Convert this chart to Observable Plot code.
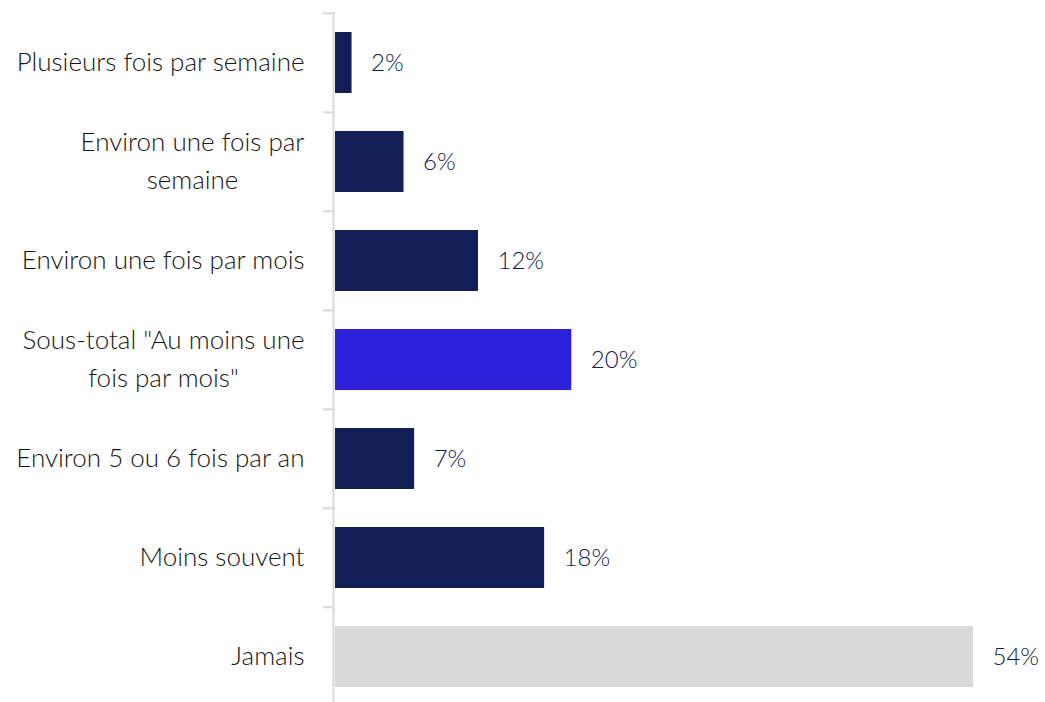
<!DOCTYPE html>
<html>
<head>
<meta charset="utf-8">
<script src="https://cdn.jsdelivr.net/npm/d3@7"></script>
<script src="https://cdn.jsdelivr.net/npm/@observablehq/plot@0.6"></script>
<style>
  html, body { margin: 0; padding: 0; background: #fff; overflow: hidden; }
  #chart svg { display: block; }
</style>
</head>
<body>
<div id="chart"></div>
<script>
const categories = [
  "Plusieurs fois par semaine",
  "Environ une fois par\nsemaine",
  "Environ une fois par mois",
  "Sous-total \"Au moins une\nfois par mois\"",
  "Environ 5 ou 6 fois par an",
  "Moins souvent",
  "Jamais"
];
const values = [1.4, 5.8, 12.1, 20.0, 6.7, 17.7, 54.0];
const valueLabels = ["2%", "6%", "12%", "20%", "7%", "18%", "54%"];
const groups = ["detail", "detail", "detail", "subtotal", "detail", "detail", "never"];

const data = categories.map((c, i) => ({category: c, value: values[i], label: valueLabels[i], group: groups[i]}));

const font = "Lato, 'Open Sans', sans-serif";
const labelSize = 26;
const labelPad = 31;
const labelLineHeight = 1.46;

// measure widest line of wrapped labels so they can be centred as a block
const ctx = document.createElement("canvas").getContext("2d");
ctx.font = `300 ${labelSize}px Lato`;
const blockWidth = s => Math.max(...s.split("\n").map(l => ctx.measureText(l).width));

const multiLine = categories.filter(c => c.includes("\n"));
const multiLabelMarks = multiLine.map(c => Plot.text([c], {
  y: d => d, text: d => d, frameAnchor: "left", textAnchor: "middle",
  dx: -(labelPad + blockWidth(c) / 2), dy: -4,
  fontSize: labelSize, fontWeight: 300, fill: "#161616", lineHeight: labelLineHeight
}));

const chart = Plot.plot({
  width: 1045,
  height: 702,
  marginTop: 12,
  marginBottom: -6,
  marginLeft: 335,
  marginRight: 72,
  style: {fontFamily: font, background: "#fff", overflow: "visible"},
  x: {domain: [0, 54], axis: null},
  y: {domain: categories, paddingInner: 0.38, paddingOuter: 0.19, label: null},
  color: {domain: ["detail", "subtotal", "never"], range: ["#121f57", "#2c22da", "#d9d9d9"]},
  marks: [
    Plot.barX(data, {x: "value", y: "category", fill: "group"}),
    Plot.ruleX([0], {stroke: "#d9d9d9", strokeWidth: 2, dx: -2}),
    Plot.axisY({tickSize: 10, text: null, stroke: "#d9d9d9", strokeWidth: 2, dx: -2, dy: -49.7}),
    Plot.axisY({tickSize: 0, tickPadding: labelPad, tickFormat: d => d.includes("\n") ? "" : d,
      fontSize: labelSize, fontWeight: 300, fill: "#161616", lineHeight: labelLineHeight, dy: -4}),
    ...multiLabelMarks,
    Plot.text(data, {x: "value", y: "category", text: "label", dx: 19, textAnchor: "start", fontSize: 24, fontWeight: 300, fill: "#0f1b50"})
  ]
});
document.getElementById("chart").appendChild(chart);
</script>
</body>
</html>
